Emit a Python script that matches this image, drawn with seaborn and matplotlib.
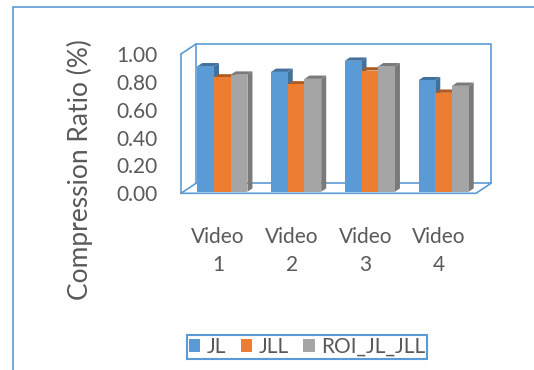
import numpy as np
import pandas as pd
import seaborn as sns
import matplotlib.pyplot as plt
from matplotlib.patches import Polygon, Rectangle, Patch

# --------------------------- DATA ---------------------------
videos = ['Video\n1', 'Video\n2', 'Video\n3', 'Video\n4']
methods = ['JL', 'JLL', 'ROI_JL_JLL']
jl = [0.90, 0.86, 0.94, 0.80]
jll = [0.82, 0.77, 0.87, 0.71]
roi = [0.84, 0.81, 0.90, 0.76]
yticks = [0.0, 0.2, 0.4, 0.6, 0.8, 1.0]

front_cols = ['#5B9BD5', '#ED7D31', '#A5A5A5']
shade_cols = ['#41719C', '#AE5A21', '#7A7A7A']
frame_col = '#5B9BD5'
text_col = '#595959'

df = pd.DataFrame({
    'video': videos * 3,
    'method': np.repeat(methods, len(videos)),
    'ratio': jl + jll + roi,
})

# --------------------------- FIGURE ---------------------------
sns.set_style('white')
plt.rcParams['font.family'] = ['Lato', 'DejaVu Sans']

fig = plt.figure(figsize=(5.34, 3.70), dpi=100)
ax = fig.add_axes([181 / 534, 1 - 193.3 / 370, 295 / 534, 139.3 / 370])

sns.barplot(data=df, x='video', y='ratio', hue='method', palette=front_cols,
            width=0.68, gap=0, saturation=1, errorbar=None, legend=False,
            linewidth=0, ax=ax)
ax.set_xlim(-0.5, 3.5)
ax.set_ylim(0, 1)

# data units per pixel (to fake the 3D depth)
pos = ax.get_position()
ux = 4.0 / (pos.width * fig.get_figwidth() * fig.dpi)
uy = 1.0 / (pos.height * fig.get_figheight() * fig.dpi)

# --------------------------- 3D BARS ---------------------------
nv = len(videos)
tagged = [(p, i // nv) for i, p in enumerate(ax.patches[:nv * len(methods)])]
tagged.sort(key=lambda t: t[0].get_x())
dx, dy = 5 * ux, 3.3 * uy
for i, (p, k) in enumerate(tagged):
    x0 = p.get_x() + 4.5 * ux
    y0 = 1.6 * uy
    w, h = p.get_width(), p.get_height()
    p.set_x(x0)
    p.set_y(y0)
    p.set_zorder(3 + 3 * i + 2)
    side = Polygon([(x0 + w, y0), (x0 + w + dx, y0 + dy),
                    (x0 + w + dx, y0 + h + dy), (x0 + w, y0 + h)],
                   closed=True, fc=shade_cols[k], ec='none', zorder=3 + 3 * i)
    top = Polygon([(x0, y0 + h), (x0 + dx, y0 + h + dy),
                   (x0 + w + dx, y0 + h + dy), (x0 + w, y0 + h)],
                  closed=True, fc=shade_cols[k], ec='none', zorder=3 + 3 * i + 1)
    ax.add_patch(side)
    ax.add_patch(top)

# --------------------------- WALLS ---------------------------
bx, by = 15 * ux, 10 * uy
lkw = dict(color=frame_col, lw=1.2, clip_on=False, zorder=1)
ax.plot([-0.5 + bx, 3.5 + bx, 3.5 + bx, -0.5 + bx, -0.5 + bx],
        [by, by, 1 + by, 1 + by, by], **lkw)
ax.plot([-0.5, -0.5], [0, 1], **lkw)
ax.plot([-0.5, -0.5 + bx], [1, 1 + by], **lkw)
ax.plot([-0.5, -0.5 + bx], [0, by], **lkw)
ax.plot([-0.5, 3.5, 3.5 + bx], [0, 0, by], **lkw)

for s in ax.spines.values():
    s.set_visible(False)

# --------------------------- TICKS & LABELS ---------------------------
ax.set_yticks(yticks)
ax.set_yticklabels([f'{v:.2f}' for v in yticks])
ax.set_xlabel('')
ax.set_ylabel('')
ax.tick_params(axis='both', length=0, labelsize=15, labelcolor=text_col)
ax.tick_params(axis='y', pad=17)
ax.tick_params(axis='x', pad=24)
for lbl in ax.get_xticklabels():
    lbl.set_linespacing(1.5)

fig.text(80 / 534, 1 - 170 / 370, 'Compression Ratio (%)', rotation=90,
         ha='center', va='center', fontsize=19, color=text_col)

handles = [Patch(fc=c, ec='none', label=m) for c, m in zip(front_cols, methods)]
leg = fig.legend(handles=handles, ncol=3, loc='center',
                 bbox_to_anchor=(307 / 534, 1 - 347 / 370), fontsize=15,
                 frameon=True, fancybox=False, framealpha=1, borderpad=0.1,
                 handlelength=0.55, handleheight=0.55, handletextpad=0.3,
                 columnspacing=0.7, borderaxespad=0)
leg.get_frame().set_edgecolor(frame_col)
leg.get_frame().set_linewidth(1.5)
for t in leg.get_texts():
    t.set_color(text_col)

# outer chart border
fig.add_artist(Rectangle((13 / 534, -0.1), 1.2, 1 - 7 / 370 + 0.1,
                         transform=fig.transFigure, fill=False,
                         ec=frame_col, lw=1.2))

fig.savefig('out.png', dpi=100)
